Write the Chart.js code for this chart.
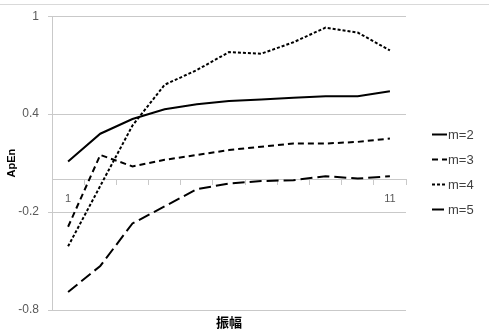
<!DOCTYPE html>
<html>
<head>
<meta charset="utf-8">
<script src="https://cdn.jsdelivr.net/npm/chart.js@4/dist/chart.umd.min.js"></script>
<style>
  html, body { margin: 0; padding: 0; background: #fff; }
  #wrap { width: 489px; height: 335px; }
</style>
</head>
<body>
<div id="wrap"><canvas id="chart" width="489" height="335"></canvas></div>
<script>
    'use strict';

    // Amplitude steps 1..11
    const categories = ['1', '2', '3', '4', '5', '6', '7', '8', '9', '10', '11'];
    const shownXLabels = ['1', '11'];

    // ApEn per embedding dimension
    const seriesM2 = [0.11, 0.28, 0.37, 0.43, 0.46, 0.48, 0.49, 0.50, 0.51, 0.51, 0.54];
    const seriesM3 = [-0.29, 0.15, 0.08, 0.12, 0.15, 0.18, 0.20, 0.22, 0.22, 0.23, 0.25];
    const seriesM4 = [-0.41, -0.04, 0.33, 0.58, 0.67, 0.78, 0.77, 0.84, 0.93, 0.90, 0.79];
    const seriesM5 = [-0.69, -0.53, -0.27, -0.165, -0.06, -0.025, -0.01, -0.005, 0.02, 0.005, 0.02];

    const seriesNames = ['m=2', 'm=3', 'm=4', 'm=5'];
    const yTicks = [-0.8, -0.2, 0.4, 1];

    const GRID = '#c9c9c9';
    const TICK_TEXT = '#595959';
    const FONT = "'Liberation Sans', Arial, sans-serif";
    const dashes = [[], [6, 4], [3, 2], [12, 5]];

    // Excel-like legend, axis title and outer frame
    const decorations = {
        id: 'decorations',
        beforeDraw(chart) {
            const ctx = chart.ctx;
            ctx.save();
            ctx.fillStyle = '#fff';
            ctx.fillRect(0, 0, chart.width, chart.height);
            ctx.strokeStyle = '#d9d9d9';
            ctx.lineWidth = 1;
            ctx.beginPath();
            ctx.moveTo(0, 4.5);
            ctx.lineTo(chart.width, 4.5);
            ctx.stroke();
            ctx.restore();
        },
        afterDraw(chart) {
            const ctx = chart.ctx;
            const area = chart.chartArea;
            ctx.save();
            // x-axis title
            ctx.fillStyle = '#000';
            ctx.font = "bold 13px 'Noto Sans CJK SC', sans-serif";
            ctx.textAlign = 'center';
            ctx.textBaseline = 'middle';
            ctx.fillText('振幅', (area.left + area.right) / 2, 322);

            // legend
            ctx.font = '13px ' + FONT;
            ctx.textAlign = 'left';
            chart.data.datasets.forEach((ds, i) => {
                const y = 134 + i * 25;
                ctx.strokeStyle = ds.borderColor;
                ctx.lineWidth = ds.borderWidth;
                ctx.setLineDash(ds.borderDash || []);
                ctx.beginPath();
                ctx.moveTo(432, y + 0.5);
                ctx.lineTo(447, y + 0.5);
                ctx.stroke();
                ctx.setLineDash([]);
                ctx.fillStyle = '#404040';
                ctx.fillText(ds.label, 448, y + 1);
            });
            ctx.restore();
        }
    };

    const datasets = [seriesM2, seriesM3, seriesM4, seriesM5].map((data, i) => ({
        label: seriesNames[i],
        data: data,
        borderColor: '#000',
        backgroundColor: '#000',
        borderWidth: 2,
        borderDash: dashes[i],
        pointRadius: 0,
        tension: 0,
        fill: false
    }));

    new Chart(document.getElementById('chart').getContext('2d'), {
        type: 'line',
        data: { labels: categories, datasets: datasets },
        options: {
            responsive: false,
            animation: false,
            devicePixelRatio: 1,
            layout: { padding: { top: 16, bottom: 25, left: 0, right: 83 } },
            plugins: {
                legend: { display: false },
                tooltip: { enabled: false }
            },
            scales: {
                x: {
                    type: 'category',
                    position: { y: 0 },
                    offset: true,
                    grid: {
                        display: true,
                        offset: true,
                        drawOnChartArea: false,
                        drawTicks: true,
                        tickLength: 5,
                        color: GRID
                    },
                    border: { display: true, color: GRID },
                    ticks: {
                        autoSkip: false,
                        maxRotation: 0,
                        padding: 8,
                        color: TICK_TEXT,
                        font: { family: FONT, size: 11 },
                        callback: function(value) {
                            const lbl = this.getLabelForValue(value);
                            return shownXLabels.includes(lbl) ? lbl : '';
                        }
                    }
                },
                y: {
                    min: -0.8,
                    max: 1,
                    afterBuildTicks: (scale) => {
                        scale.ticks = yTicks.map(v => ({ value: v }));
                    },
                    afterFit: (scale) => { scale.width = 52; },
                    grid: { color: GRID, tickLength: 4 },
                    border: { display: true, color: GRID },
                    ticks: {
                        padding: 9,
                        color: TICK_TEXT,
                        font: { family: FONT, size: 12 },
                        callback: (v) => String(Math.round(v * 10) / 10)
                    },
                    title: {
                        display: true,
                        text: 'ApEn',
                        color: '#000',
                        font: { family: FONT, size: 11, weight: 'bold' },
                        padding: { top: 5, bottom: 0 }
                    }
                }
            }
        },
        plugins: [decorations]
    });
</script>
</body>
</html>
